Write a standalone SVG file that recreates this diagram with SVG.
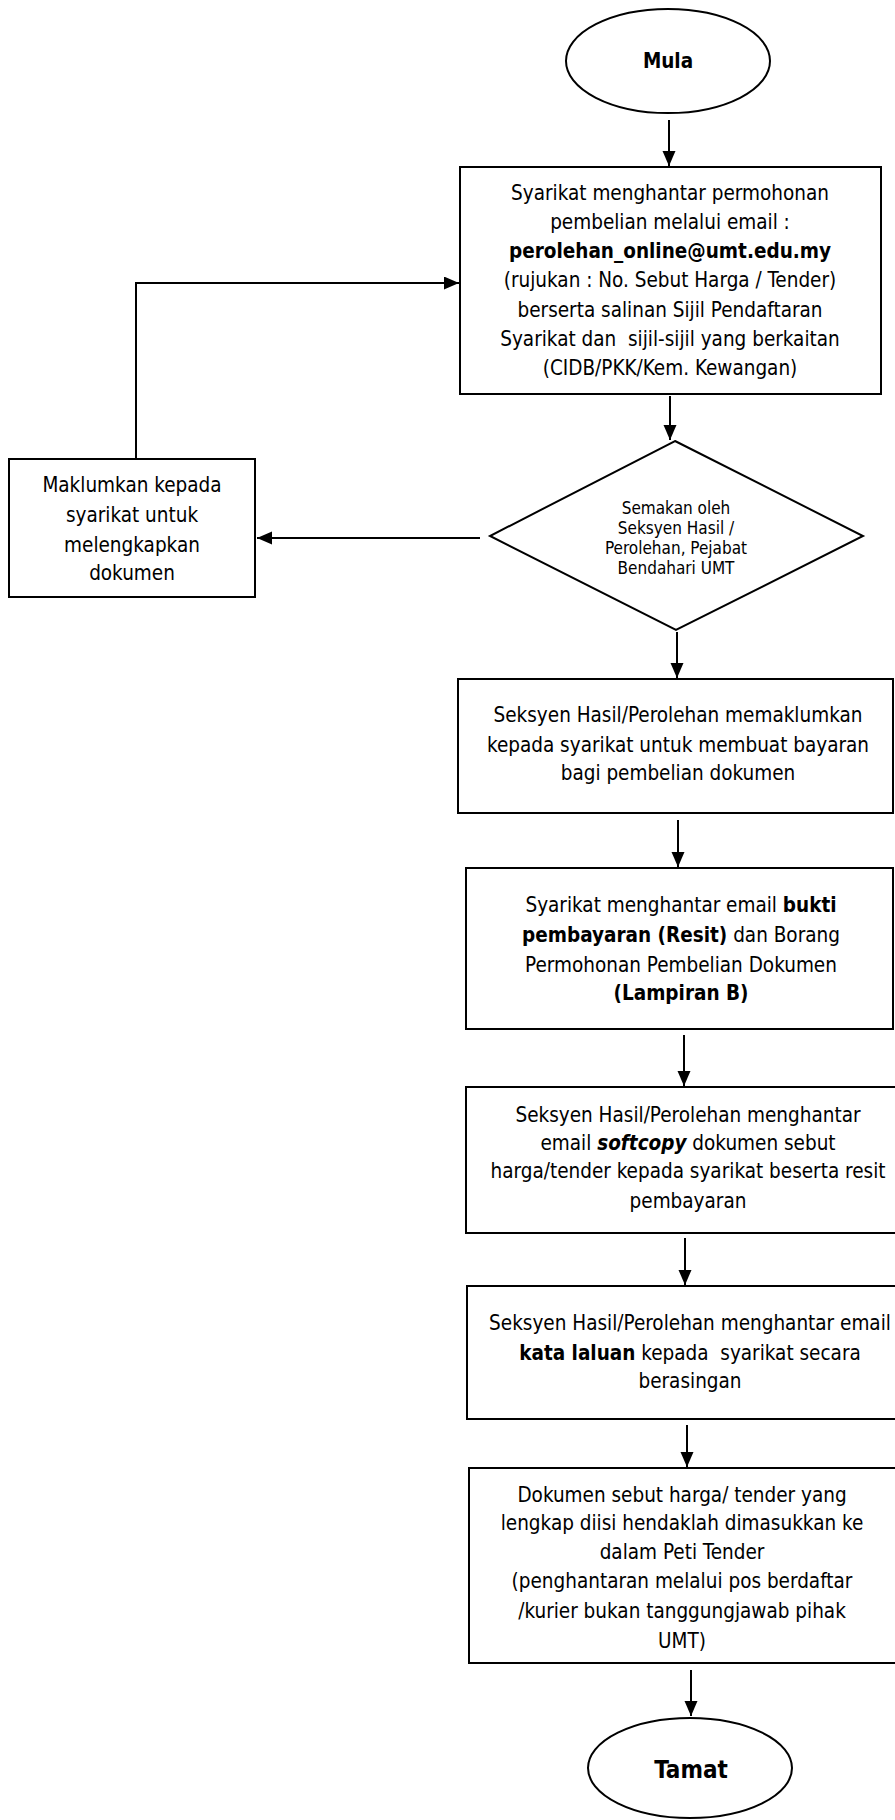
<svg xmlns="http://www.w3.org/2000/svg" width="895" height="1820" viewBox="0 0 895 1820">
<style>
.shape{fill:#fff;stroke:#000;stroke-width:2}
.t{font-family:'DejaVu Sans Condensed','DejaVu Sans',sans-serif;font-size:20.5px;fill:#000;text-anchor:middle}
.s{font-size:17px}
.b{font-weight:bold}
.bi{font-weight:bold;font-style:italic}
.conn{fill:none;stroke:#000;stroke-width:2}
</style>
<defs>
<marker id="ah" markerUnits="userSpaceOnUse" markerWidth="16" markerHeight="14" refX="15" refY="6.5" orient="auto">
<path d="M0,0 L15,6.5 L0,13 z" fill="#000"/>
</marker>
</defs>
<rect width="895" height="1820" fill="#fff"/>
<g id="connectors">
<path class="conn" d="M669,120 L669,166" marker-end="url(#ah)"/>
<path class="conn" d="M670,396 L670,440" marker-end="url(#ah)"/>
<path class="conn" d="M480,538 L257,538" marker-end="url(#ah)"/>
<path class="conn" d="M136,459 L136,283 L459,283" marker-end="url(#ah)"/>
<path class="conn" d="M677,632 L677,678" marker-end="url(#ah)"/>
<path class="conn" d="M678,820 L678,867" marker-end="url(#ah)"/>
<path class="conn" d="M684,1035 L684,1086" marker-end="url(#ah)"/>
<path class="conn" d="M685,1238 L685,1285" marker-end="url(#ah)"/>
<path class="conn" d="M687,1425 L687,1467" marker-end="url(#ah)"/>
<path class="conn" d="M691,1670 L691,1716" marker-end="url(#ah)"/>
</g>
<g id="mula">
<ellipse class="shape" cx="668" cy="61" rx="102" ry="52"/>
<text class="t b" x="668" y="68">Mula</text>
</g>
<g id="box1">
<rect class="shape" x="460" y="167" width="421" height="227"/>
<text class="t" x="670" y="200">Syarikat menghantar permohonan</text>
<text class="t" x="670" y="229">pembelian melalui email :</text>
<text class="t b" x="670" y="258">perolehan_online@umt.edu.my</text>
<text class="t" x="670" y="287">(rujukan : No. Sebut Harga / Tender)</text>
<text class="t" x="670" y="317">berserta salinan Sijil Pendaftaran</text>
<text class="t" x="670" y="346" xml:space="preserve">Syarikat dan  sijil-sijil yang berkaitan</text>
<text class="t" x="670" y="375">(CIDB/PKK/Kem. Kewangan)</text>
</g>
<g id="semakan">
<polygon class="shape" points="675,441 863,536 676,630 490,536"/>
<text class="t s" x="676" y="514">Semakan oleh</text>
<text class="t s" x="676" y="534">Seksyen Hasil /</text>
<text class="t s" x="676" y="554">Perolehan, Pejabat</text>
<text class="t s" x="676" y="574">Bendahari UMT</text>
</g>
<g id="maklumkan">
<rect class="shape" x="9" y="459" width="246" height="138"/>
<text class="t" x="132" y="492">Maklumkan kepada</text>
<text class="t" x="132" y="522">syarikat untuk</text>
<text class="t" x="132" y="552">melengkapkan</text>
<text class="t" x="132" y="580">dokumen</text>
</g>
<g id="box2">
<rect class="shape" x="458" y="679" width="435" height="134"/>
<text class="t" x="678" y="722">Seksyen Hasil/Perolehan memaklumkan</text>
<text class="t" x="678" y="752">kepada syarikat untuk membuat bayaran</text>
<text class="t" x="678" y="780">bagi pembelian dokumen</text>
</g>
<g id="box3">
<rect class="shape" x="466" y="868" width="427" height="161"/>
<text class="t" x="681" y="912">Syarikat menghantar email <tspan class="b">bukti</tspan></text>
<text class="t" x="681" y="942"><tspan class="b">pembayaran (Resit)</tspan> dan Borang</text>
<text class="t" x="681" y="972">Permohonan Pembelian Dokumen</text>
<text class="t b" x="681" y="1000">(Lampiran B)</text>
</g>
<g id="box4">
<rect class="shape" x="466" y="1087" width="434" height="146"/>
<text class="t" x="688" y="1122">Seksyen Hasil/Perolehan menghantar</text>
<text class="t" x="688" y="1150">email <tspan class="bi">softcopy</tspan> dokumen sebut</text>
<text class="t" x="688" y="1178">harga/tender kepada syarikat beserta resit</text>
<text class="t" x="688" y="1208">pembayaran</text>
</g>
<g id="box5">
<rect class="shape" x="467" y="1286" width="433" height="133"/>
<text class="t" x="690" y="1330">Seksyen Hasil/Perolehan menghantar email</text>
<text class="t" x="690" y="1360" xml:space="preserve"><tspan class="b">kata laluan</tspan> kepada  syarikat secara</text>
<text class="t" x="690" y="1388">berasingan</text>
</g>
<g id="box6">
<rect class="shape" x="469" y="1468" width="431" height="195"/>
<text class="t" x="682" y="1502">Dokumen sebut harga/ tender yang</text>
<text class="t" x="682" y="1530">lengkap diisi hendaklah dimasukkan ke</text>
<text class="t" x="682" y="1559">dalam Peti Tender</text>
<text class="t" x="682" y="1588">(penghantaran melalui pos berdaftar</text>
<text class="t" x="682" y="1618">/kurier bukan tanggungjawab pihak</text>
<text class="t" x="682" y="1648">UMT)</text>
</g>
<g id="tamat">
<ellipse class="shape" cx="690" cy="1768" rx="102" ry="50"/>
<text class="t b" x="691" y="1778" style="font-size:24px">Tamat</text>
</g>
</svg>
